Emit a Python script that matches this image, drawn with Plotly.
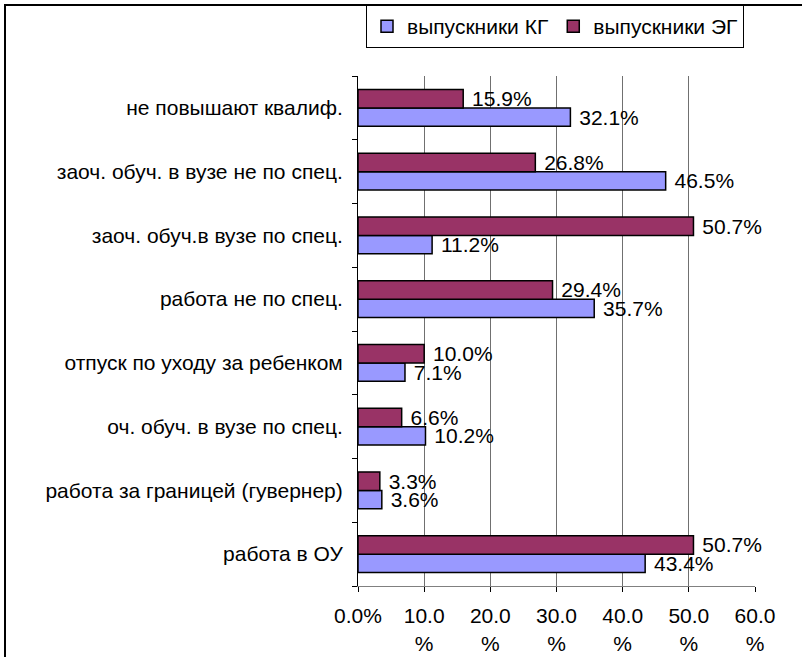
import plotly.graph_objects as go

categories = [
    "работа в ОУ",
    "работа за границей (гувернер)",
    "оч. обуч. в вузе по спец.",
    "отпуск по уходу за ребенком",
    "работа не по спец.",
    "заоч. обуч.в вузе по спец.",
    "заоч. обуч. в вузе не по спец.",
    "не повышают квалиф.",
]
kg_values = [43.4, 3.6, 10.2, 7.1, 35.7, 11.2, 46.5, 32.1]
eg_values = [50.7, 3.3, 6.6, 10.0, 29.4, 50.7, 26.8, 15.9]
x_tickvals = [0, 10, 20, 30, 40, 50, 60]
x_ticktext = ["0.0%", "10.0<br>%", "20.0<br>%", "30.0<br>%", "40.0<br>%", "50.0<br>%", "60.0<br>%"]

FONT = "Liberation Sans, Arial, sans-serif"
FS = 21
W, H = 802, 657
L, R, T, B = 358, 47, 76, 71
pw, ph = W - L - R, H - T - B

fig = go.Figure()
fig.add_trace(go.Bar(
    y=categories, x=kg_values, orientation="h", name="выпускники КГ",
    marker=dict(color="#9999FF", line=dict(color="black", width=1.5)),
    text=[f"\u00a0{v:.1f}%" for v in kg_values], textposition="outside",
    textfont=dict(size=FS, color="black", family=FONT),
    cliponaxis=False, constraintext="none",
))
fig.add_trace(go.Bar(
    y=categories, x=eg_values, orientation="h", name="выпускники ЭГ",
    marker=dict(color="#993366", line=dict(color="black", width=1.5)),
    text=[f"\u00a0{v:.1f}%" for v in eg_values], textposition="outside",
    textfont=dict(size=FS, color="black", family=FONT),
    cliponaxis=False, constraintext="none",
))

def px_x(x):
    return (x - L) / pw

def px_y(y):
    return (H - B - y) / ph

frame_line = dict(color="black", width=2)

fig.update_layout(
    width=W, height=H,
    margin=dict(l=L, r=R, t=T, b=B, pad=0, autoexpand=False),
    paper_bgcolor="white", plot_bgcolor="white",
    font=dict(family=FONT, size=FS, color="black"),
    barmode="group", bargap=0.42, bargroupgap=0,
    showlegend=True,
    legend=dict(
        orientation="h", x=px_x(366), y=px_y(5), xanchor="left", yanchor="top",
        bordercolor="black", borderwidth=1, bgcolor="white",
        font=dict(size=FS, family=FONT), traceorder="normal",
    ),
    xaxis=dict(
        range=[0, 60], tickvals=x_tickvals, ticktext=x_ticktext,
        showgrid=True, gridcolor="#707070", gridwidth=1,
        showline=True, linecolor="#808080", linewidth=1,
        ticks="outside", ticklen=5, tickcolor="black",
        zeroline=False, tickfont=dict(size=FS), ticklabelstandoff=6,
    ),
    yaxis=dict(
        type="category", showline=True, linecolor="black", linewidth=1,
        ticks="outside", ticklen=5, tickson="boundaries", tickcolor="black",
        showgrid=False, tickfont=dict(size=FS), ticklabelstandoff=10,
    ),
    shapes=[
        dict(type="line", xref="paper", yref="paper",
             x0=px_x(4), x1=px_x(802), y0=px_y(5), y1=px_y(5), line=frame_line, layer="above"),
        dict(type="line", xref="paper", yref="paper",
             x0=px_x(5), x1=px_x(5), y0=px_y(4), y1=px_y(657), line=frame_line, layer="above"),
    ],
)

fig.write_html(
    "out.html",
    config={"displayModeBar": False},
    post_script="document.body.style.margin='0';document.body.style.overflow='hidden';",
)
